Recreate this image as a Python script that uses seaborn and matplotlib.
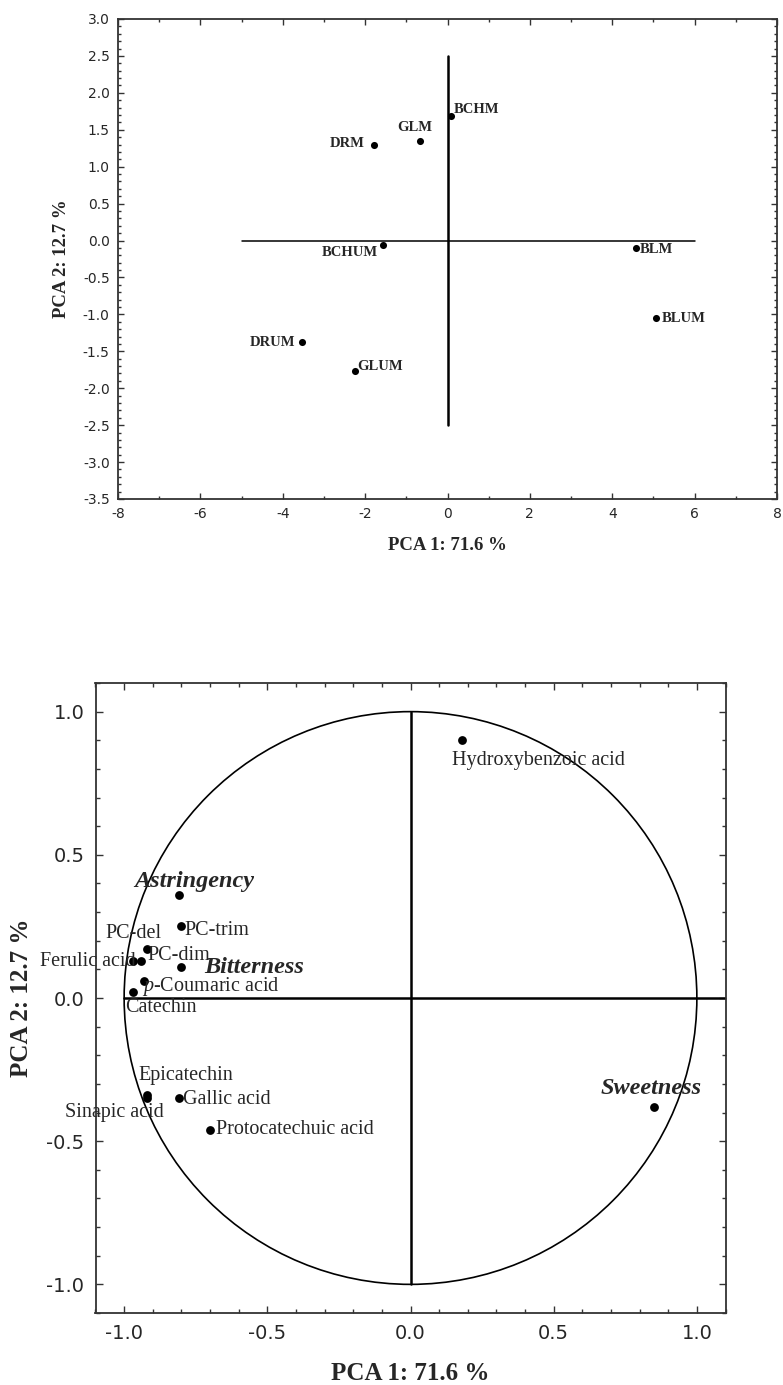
import numpy as np
import pandas as pd
import matplotlib
matplotlib.use("Agg")
import matplotlib.pyplot as plt
import seaborn as sns
from matplotlib.ticker import MultipleLocator, FormatStrFormatter
from matplotlib.patches import Circle

# ---------------- data ----------------
sample_names = ["DRM", "GLM", "BCHM", "BCHUM", "BLM", "BLUM", "DRUM", "GLUM"]
sample_pc1 = [-1.78, -0.67, 0.08, -1.56, 4.57, 5.07, -3.53, -2.25]
sample_pc2 = [1.30, 1.35, 1.69, -0.06, -0.10, -1.05, -1.38, -1.77]

var_names = ["Hydroxybenzoic acid", "Astringency", "PC-trim", "PC-del", "PC-dim",
             "Ferulic acid", "Bitterness", r"$\mathit{p}$-Coumaric acid", "Catechin",
             "Epicatechin", "Sinapic acid", "Gallic acid", "Protocatechuic acid",
             "Sweetness"]
var_pc1 = [0.18, -0.81, -0.80, -0.92, -0.94, -0.97, -0.80, -0.93, -0.97,
           -0.92, -0.92, -0.81, -0.70, 0.85]
var_pc2 = [0.90, 0.36, 0.25, 0.17, 0.13, 0.13, 0.11, 0.06, 0.02,
           -0.34, -0.35, -0.35, -0.46, -0.38]
sensory = {"Astringency", "Bitterness", "Sweetness"}

x_label = "PCA 1: 71.6 %"
y_label = "PCA 2: 12.7 %"

# ---------------- label placement (pixels offset, alignment) ----------------
sample_offsets = {"DRM": (-10, 1, "right"), "GLM": (-5, 13, "center"),
                  "BCHM": (3, 6, "left"), "BCHUM": (-5, -8, "right"),
                  "BLM": (4, -2, "left"), "BLUM": (5, 0, "left"),
                  "DRUM": (-7, 0, "right"), "GLUM": (2, 5, "left")}
var_offsets = [(-10, -20, "left"), (16, 13, "center"), (3, -4, "left"),
               (-14, 16, "center"), (6, 5, "left"), (3, -1, "right"),
               (23, -1, "left"), (-2, -6, "left"), (-8, -15, "left"),
               (-9, 20, "left"), (17, -14, "right"), (4, -1, "left"),
               (6, 0, "left"), (-3, 18, "center")]

sns.set_style("ticks")
plt.rcParams["font.family"] = ["DejaVu Sans"]
plt.rcParams["axes.unicode_minus"] = False
plt.rcParams["mathtext.fontset"] = "custom"
plt.rcParams["mathtext.rm"] = "Liberation Serif"
plt.rcParams["mathtext.it"] = "Liberation Serif:italic"

W, H = 783, 1385
fig = plt.figure(figsize=(W / 100, H / 100), dpi=100)
ax1 = fig.add_axes([118 / W, 1 - 499 / H, 659 / W, 480 / H])
ax2 = fig.add_axes([95.5 / W, 1 - 1313 / H, 630 / W, 630 / H])

serif = "Liberation Serif"

# ---------------- top: sample scores ----------------
df_s = pd.DataFrame({"name": sample_names, "pc1": sample_pc1, "pc2": sample_pc2})
ax1.plot([0, 0], [-2.5, 2.5], color="black", lw=1.8, zorder=1)
ax1.plot([-5, 6], [0, 0], color="black", lw=1.1, zorder=1)
sns.scatterplot(data=df_s, x="pc1", y="pc2", ax=ax1, color="black", s=26,
                edgecolor="black", linewidth=0, zorder=3)
for _, r in df_s.iterrows():
    dx, dy, ha = sample_offsets[r["name"]]
    ax1.annotate(r["name"], (r["pc1"], r["pc2"]), xytext=(dx, dy),
                 textcoords="offset pixels", ha=ha, va="center",
                 fontfamily=serif, fontweight="bold", fontsize=10.5)

ax1.set_xlim(-8, 8)
ax1.set_ylim(-3.5, 3.0)
ax1.xaxis.set_major_locator(MultipleLocator(2))
ax1.xaxis.set_minor_locator(MultipleLocator(1))
ax1.yaxis.set_major_locator(MultipleLocator(0.5))
ax1.yaxis.set_minor_locator(MultipleLocator(0.1))
ax1.yaxis.set_major_formatter(FormatStrFormatter("%.1f"))
ax1.tick_params(which="both", direction="in", top=True, right=True,
                color="#333333", width=1.0)
ax1.tick_params(which="major", length=4, labelsize=10, pad=6)
ax1.tick_params(which="minor", length=2)
ax1.set_xlabel(x_label, fontfamily=serif, fontweight="bold", fontsize=13.5)
ax1.set_ylabel(y_label, fontfamily=serif, fontweight="bold", fontsize=13.5)
ax1.xaxis.label.set_va("center")
ax1.yaxis.label.set_va("center")
ax1.xaxis.set_label_coords(0.5, (499 - 545) / 480)
ax1.yaxis.set_label_coords((62 - 118) / 659, 0.5)
for sp in ax1.spines.values():
    sp.set_visible(True)
    sp.set_color("#333333")
    sp.set_linewidth(1.3)

# ---------------- bottom: loadings ----------------
df_v = pd.DataFrame({"name": var_names, "pc1": var_pc1, "pc2": var_pc2})
ax2.add_patch(Circle((0, 0), 1.0, fill=False, color="black", lw=1.2, zorder=1))
ax2.plot([0, 0], [-1, 1], color="black", lw=1.8, zorder=1)
ax2.plot([-1, 1.1], [0, 0], color="black", lw=1.8, zorder=1)
sns.scatterplot(data=df_v, x="pc1", y="pc2", ax=ax2, color="black", s=40,
                edgecolor="black", linewidth=0, zorder=3)
for (_, r), (dx, dy, ha) in zip(df_v.iterrows(), var_offsets):
    if r["name"] in sensory:
        kw = dict(fontweight="bold", fontstyle="italic", fontsize=17.5)
    else:
        kw = dict(fontsize=14.5)
    ax2.annotate(r["name"], (r["pc1"], r["pc2"]), xytext=(dx, dy),
                 textcoords="offset pixels", ha=ha, va="center",
                 fontfamily=serif, **kw)

ax2.set_xlim(-1.1, 1.1)
ax2.set_ylim(-1.1, 1.1)
ax2.set_xticks([-1.0, -0.5, 0.0, 0.5, 1.0])
ax2.set_yticks([-1.0, -0.5, 0.0, 0.5, 1.0])
ax2.xaxis.set_minor_locator(MultipleLocator(0.1))
ax2.yaxis.set_minor_locator(MultipleLocator(0.1))
ax2.xaxis.set_major_formatter(FormatStrFormatter("%.1f"))
ax2.yaxis.set_major_formatter(FormatStrFormatter("%.1f"))
ax2.tick_params(which="both", direction="in", top=True, right=True,
                color="#333333", width=1.0)
ax2.tick_params(which="major", length=5, labelsize=14, pad=8)
ax2.tick_params(which="minor", length=3)
ax2.set_xlabel(x_label, fontfamily=serif, fontweight="bold", fontsize=18)
ax2.set_ylabel(y_label, fontfamily=serif, fontweight="bold", fontsize=18)
ax2.xaxis.label.set_va("center")
ax2.yaxis.label.set_va("center")
ax2.xaxis.set_label_coords(0.5, (1313 - 1373) / 630)
ax2.yaxis.set_label_coords((22 - 95.5) / 630, 0.5)
for sp in ax2.spines.values():
    sp.set_visible(True)
    sp.set_color("#333333")
    sp.set_linewidth(1.3)

fig.savefig("out.png", dpi=100)
